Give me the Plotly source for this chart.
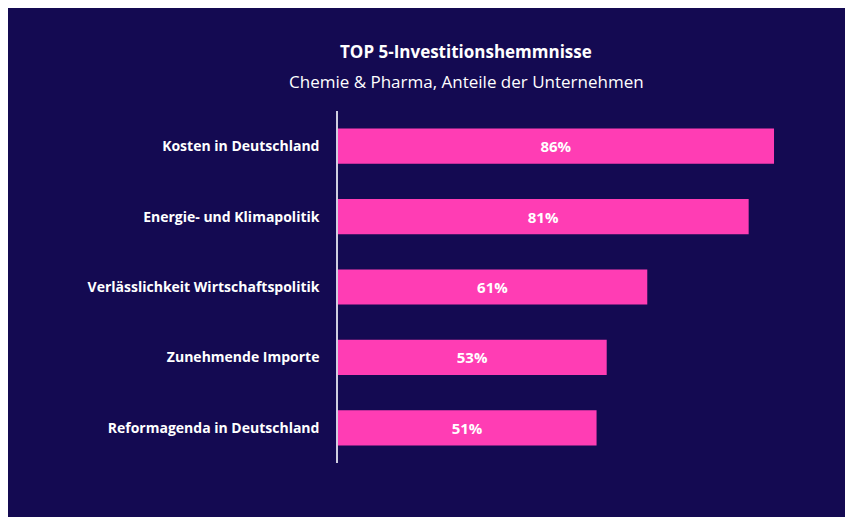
import plotly.graph_objects as go

categories = ["Kosten in Deutschland", "Energie- und Klimapolitik",
              "Verlässlichkeit Wirtschaftspolitik", "Zunehmende Importe",
              "Reformagenda in Deutschland"]
values = [86, 81, 61, 53, 51]

bg = "#140a52"
fig = go.Figure(go.Bar(
    x=values, y=categories, orientation="h",
    marker=dict(color="#ff3db4", line=dict(width=0)),
    text=[f"{v}%" for v in values], textposition="inside", insidetextanchor="middle",
    textfont=dict(color="white", size=15, family="Open Sans", weight="bold"),
    width=0.5,
))
fig.update_layout(
    width=853, height=517, paper_bgcolor=bg, plot_bgcolor=bg,
    margin=dict(l=330, r=16, t=103, b=62),
    showlegend=False,
    font=dict(family="Open Sans", color="white"),
    xaxis=dict(range=[0, 100], visible=False),
    yaxis=dict(autorange="reversed", showline=True, linecolor="#cfcfe0", linewidth=1.5,
               ticks="", ticklabelstandoff=14,
               tickfont=dict(size=14, color="white", family="Open Sans", weight="bold")),
)
cx = (458 - 330) / 507
fig.add_annotation(text="<b>TOP 5-Investitionshemmnisse</b>", xref="paper", yref="paper",
                   x=cx, xanchor="center", y=1, yanchor="middle", yshift=60,
                   showarrow=False, font=dict(size=17, color="white"))
fig.add_annotation(text="Chemie & Pharma, Anteile der Unternehmen", xref="paper", yref="paper",
                   x=cx, xanchor="center", y=1, yanchor="middle", yshift=30,
                   showarrow=False, font=dict(size=17, color="white"))
fig.write_html("out.html")
